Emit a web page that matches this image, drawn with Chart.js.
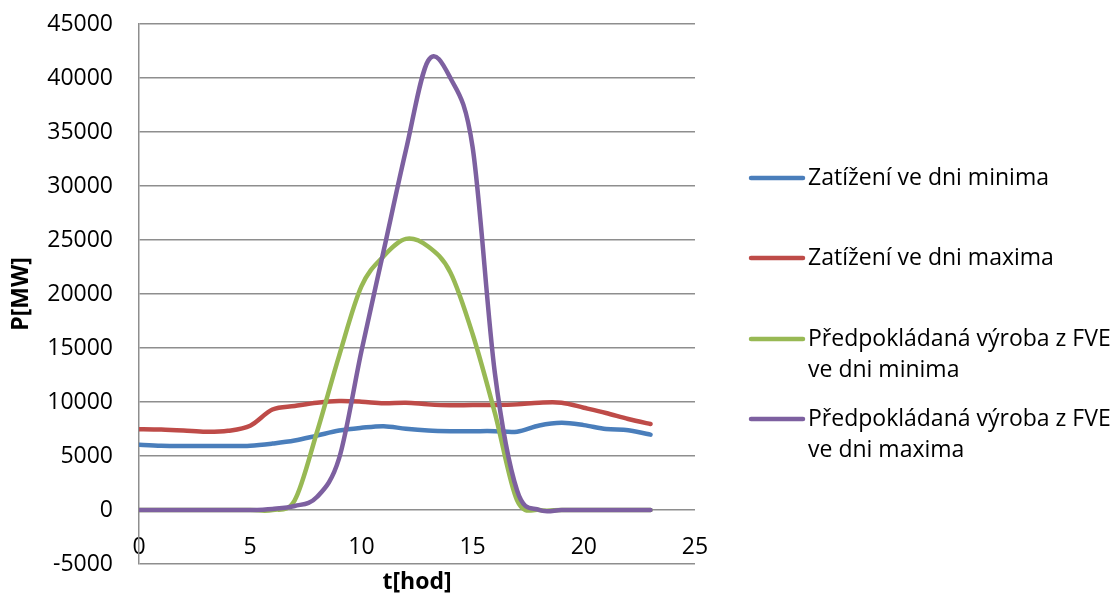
<!DOCTYPE html>
<html><head><meta charset="utf-8">
<script src="https://cdn.jsdelivr.net/npm/chart.js@4/dist/chart.umd.min.js"></script>
<style>html,body{margin:0;padding:0;background:#fff}#wrap{width:1118px;height:598px;position:relative}</style>
</head><body><div id="wrap"><canvas id="c" width="1118" height="598"></canvas></div>
<script>
// ---- data ----
const hours = [0,1,2,3,4,5,6,7,8,9,10,11,12,13,14,15,16,17,18,19,20,21,22,23];
const loadMin = [6050,5950,5920,5920,5920,5950,6150,6430,6890,7360,7610,7760,7520,7360,7300,7300,7300,7250,7830,8070,7860,7500,7380,6980];
const loadMax = [7480,7450,7360,7240,7330,7800,9300,9630,9940,10090,10030,9880,9940,9780,9690,9720,9720,9780,9940,9940,9470,8980,8430,7960];
const pvMin = [0,0,0,0,0,0,0,900,7200,14300,20700,23500,25100,24400,22000,16300,9000,900,0,0,0,0,0,0];
const pvMax = [0,0,0,0,0,0,100,370,1200,4800,14700,24000,33300,41600,40000,33600,12700,1800,0,0,0,0,0,0];
const seriesLabels = ['Zatížení ve dni minima','Zatížení ve dni maxima','Předpokládaná výroba z FVE\nve dni minima','Předpokládaná výroba z FVE\nve dni maxima'];
const xTicks = [0,5,10,15,20,25];
const yTicks = [-5000,0,5000,10000,15000,20000,25000,30000,35000,40000,45000];
const xTitle = 't[hod]';
const yTitle = 'P[MW]';

// ---- style ----
const FONT = "'Open Sans', sans-serif";
const FS = 23;
const colors = ['#4A7EBB','#BE4B48','#98B954','#7D60A0'];
const GRID = '#8e8e8e';
const legendRowY = [178, 258, 339, 419];

const series = [loadMin, loadMax, pvMin, pvMax];
const datasets = series.map((vals, i) => ({
  label: seriesLabels[i],
  data: hours.map((h, j) => ({x: h, y: vals[j]})),
  borderColor: colors[i],
  backgroundColor: colors[i],
  borderWidth: 4.5,
  pointRadius: 0,
  tension: 0.3,
  fill: false,
  order: 4 - i,
  borderCapStyle: 'round',
  borderJoinStyle: 'round'
}));

// Excel-like smoothing (uniform Catmull-Rom control points)
const smoothLines = {
  id: 'smoothLines',
  beforeDatasetsDraw(chart) {
    chart.getSortedVisibleDatasetMetas().forEach(meta => {
      const pts = meta.data, n = pts.length;
      for (let i = 0; i < n; i++) {
        const a = pts[Math.max(i - 1, 0)], p = pts[i], b = pts[Math.min(i + 1, n - 1)];
        const dx = (b.x - a.x) / 6, dy = (b.y - a.y) / 6;
        p.cp1x = p.x - dx; p.cp1y = p.y - dy;
        p.cp2x = p.x + dx; p.cp2y = p.y + dy;
      }
      if (meta.dataset) { meta.dataset._pointsUpdated = true; meta.dataset._path = undefined; }
    });
  }
};

const sideLegend = {
  id: 'sideLegend',
  afterDraw(chart) {
    const ctx = chart.ctx;
    ctx.save();
    ctx.font = FS + 'px ' + FONT;
    ctx.textBaseline = 'middle';
    ctx.textAlign = 'left';
    chart.data.datasets.forEach((ds, i) => {
      const y = legendRowY[i];
      ctx.strokeStyle = ds.borderColor;
      ctx.lineWidth = 4.5;
      ctx.lineCap = 'round';
      ctx.beginPath(); ctx.moveTo(751, y); ctx.lineTo(803, y); ctx.stroke();
      ctx.fillStyle = '#000';
      ds.label.split('\n').forEach((t, k) => ctx.fillText(t, 808, y + k * 31));
    });
    ctx.restore();
  }
};

const noPad = s => { s.paddingTop = 0; s.paddingBottom = 0; s.paddingLeft = 0; s.paddingRight = 0; };

new Chart(document.getElementById('c'), {
  type: 'line',
  data: { datasets },
  plugins: [smoothLines, sideLegend],
  options: {
    responsive: false,
    animation: false,
    devicePixelRatio: 1,
    layout: { padding: { left: 0, right: 423, top: 24, bottom: 34 } },
    plugins: { legend: { display: false }, tooltip: { enabled: false } },
    scales: {
      x: {
        type: 'linear', position: { y: 0 },
        min: xTicks[0], max: xTicks[xTicks.length - 1],
        afterBuildTicks: s => { s.ticks = xTicks.map(v => ({value: v})); },
        afterFit: s => { s.height = 34; noPad(s); },
        grid: { display: false, drawTicks: false },
        border: { display: false },
        ticks: { autoSkip: false, maxRotation: 0, padding: 24, color: '#000', font: { family: FONT, size: FS }, callback: v => String(v) },
        title: { display: true, text: xTitle, color: '#000', font: { family: FONT, size: FS, weight: 'bold' }, padding: { top: 0, bottom: -52 } }
      },
      y: {
        min: yTicks[0], max: yTicks[yTicks.length - 1],
        afterBuildTicks: s => { s.ticks = yTicks.map(v => ({value: v})); },
        afterFit: s => { s.width = 139; noPad(s); },
        grid: { color: GRID, lineWidth: 1.5, drawTicks: false },
        border: { display: true, color: GRID, width: 1.5 },
        ticks: { padding: 26, color: '#000', font: { family: FONT, size: FS }, callback: v => String(v) },
        title: { display: true, text: yTitle, color: '#000', font: { family: FONT, size: FS, weight: 'bold' }, padding: { top: 8, bottom: 0 } }
      }
    }
  }
});
</script></body></html>
